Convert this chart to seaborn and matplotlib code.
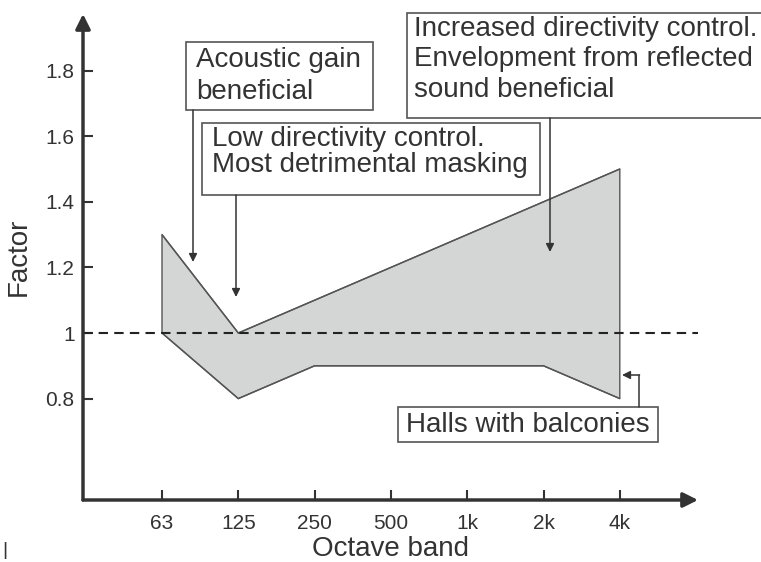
import matplotlib
matplotlib.use("Agg")
import matplotlib.pyplot as plt
from matplotlib.patches import Rectangle
import seaborn as sns

# ---- data ----
bands = ["63", "125", "250", "500", "1k", "2k", "4k"]
upper_idx = [0, 1, 6]
upper_val = [1.3, 1.0, 1.5]
lower_idx = [0, 1, 2, 5, 6]
lower_val = [1.0, 0.8, 0.9, 0.9, 0.8]
ytick_vals = [0.8, 1.0, 1.2, 1.4, 1.6, 1.8]
ytick_labels = ["0.8", "1", "1.2", "1.4", "1.6", "1.8"]
reference_level = 1.0

sns.set_theme(style="white")
plt.rcParams["font.family"] = ["Liberation Sans", "DejaVu Sans"]

W, H = 761, 562
fig = plt.figure(figsize=(W / 100, H / 100), dpi=100)

# axes placement in pixels
L_px, R_px, B_px, T_px = 83, 698, 500, 14
ax = fig.add_axes([L_px / W, 1 - B_px / H, (R_px - L_px) / W, (B_px - T_px) / H])

# pixel -> data helpers (for annotation placement)
X0, XS = 162.0, 76.3
Y0, YS = 333.0, 328.0
def X(px):
    return (px - X0) / XS
def Y(py):
    return 1 + (Y0 - py) / YS

ax.set_xlim(X(L_px), X(R_px))
ax.set_ylim(Y(B_px), Y(T_px))

dark = "#333333"
edge = "#555555"

# shaded region
poly_x = upper_idx + lower_idx[::-1]
poly_y = upper_val + lower_val[::-1]
ax.fill(poly_x, poly_y, facecolor="#d4d6d6", edgecolor=edge, lw=1.0, zorder=2)
sns.lineplot(x=upper_idx, y=upper_val, ax=ax, color=edge, lw=1.0, sort=False, zorder=3)
sns.lineplot(x=lower_idx, y=lower_val, ax=ax, color=edge, lw=1.0, sort=False, zorder=3)

# dashed reference line
ax.axhline(reference_level, color="#222222", lw=1.5, ls=(0, (4.5, 3)), zorder=4)

# axes styling
for s in ["top", "right", "left", "bottom"]:
    ax.spines[s].set_visible(False)
ax.annotate("", xy=(0, 1), xytext=(0, 0), xycoords="axes fraction",
            arrowprops=dict(arrowstyle="-|>", lw=2.5, color=dark, mutation_scale=22,
                            shrinkA=0, shrinkB=0), annotation_clip=False, zorder=5)
ax.annotate("", xy=(1, 0), xytext=(0, 0), xycoords="axes fraction",
            arrowprops=dict(arrowstyle="-|>", lw=2.5, color=dark, mutation_scale=22,
                            shrinkA=0, shrinkB=0), annotation_clip=False, zorder=5)

ax.set_xticks(range(len(bands)))
ax.set_xticklabels(bands)
ax.set_yticks(ytick_vals)
ax.set_yticklabels(ytick_labels)
ax.tick_params(axis="both", direction="in", length=7, width=1.5, color=dark,
               labelsize=15, labelcolor=dark, left=True, bottom=True)
ax.tick_params(axis="x", pad=10)
ax.tick_params(axis="y", pad=6)
ax.set_xlabel("Octave band", fontsize=20, color=dark, labelpad=2)
ax.set_ylabel("Factor", fontsize=20, color=dark, labelpad=10)
ax.grid(False)

# annotation boxes
def box(x1, y1, x2, y2):
    r = Rectangle((X(x1), Y(y2)), X(x2) - X(x1), Y(y1) - Y(y2), fill=True,
                  facecolor="white", edgecolor=edge, lw=1.2, clip_on=False, zorder=6)
    ax.add_patch(r)

def arrow(x, y_from, y_to):
    ax.annotate("", xy=(X(x), Y(y_to)), xytext=(X(x), Y(y_from)),
                arrowprops=dict(arrowstyle="-|>", lw=1.1, color=dark, mutation_scale=12,
                                shrinkA=0, shrinkB=0), annotation_clip=False, zorder=7)

fs = 20
box(186, 42, 373, 110)
ax.text(X(196), Y(47), "Acoustic gain\nbeneficial", fontsize=fs, color=dark,
        va="top", ha="left", linespacing=1.28, zorder=8, clip_on=False)
arrow(193, 110, 262)

box(202, 123, 540, 195)
ax.text(X(212), Y(126), "Low directivity control.\nMost detrimental masking", fontsize=fs,
        color=dark, va="top", ha="left", linespacing=1.02, zorder=8, clip_on=False)
arrow(236, 195, 297)

box(407, 13, 775, 118)
ax.text(X(414), Y(16), "Increased directivity control.\nEnvelopment from reflected\nsound beneficial",
        fontsize=fs, color=dark, va="top", ha="left", linespacing=1.22, zorder=8, clip_on=False)
arrow(550, 118, 252)

box(398, 407, 658, 442)
ax.text(X(528), Y(424.5), "Halls with balconies", fontsize=fs, color=dark,
        va="center", ha="center", zorder=8, clip_on=False)
ax.plot([X(639), X(639)], [Y(407), Y(375)], color=dark, lw=1.1, clip_on=False, zorder=7)
ax.annotate("", xy=(X(622), Y(375)), xytext=(X(639.5), Y(375)),
            arrowprops=dict(arrowstyle="-|>", lw=1.1, color=dark, mutation_scale=12,
                            shrinkA=0, shrinkB=0), annotation_clip=False, zorder=7)

fig.text(5 / W, 1 - 559 / H, "|", fontsize=14, color=dark, ha="center", va="bottom")

fig.savefig("out.png", dpi=100)
